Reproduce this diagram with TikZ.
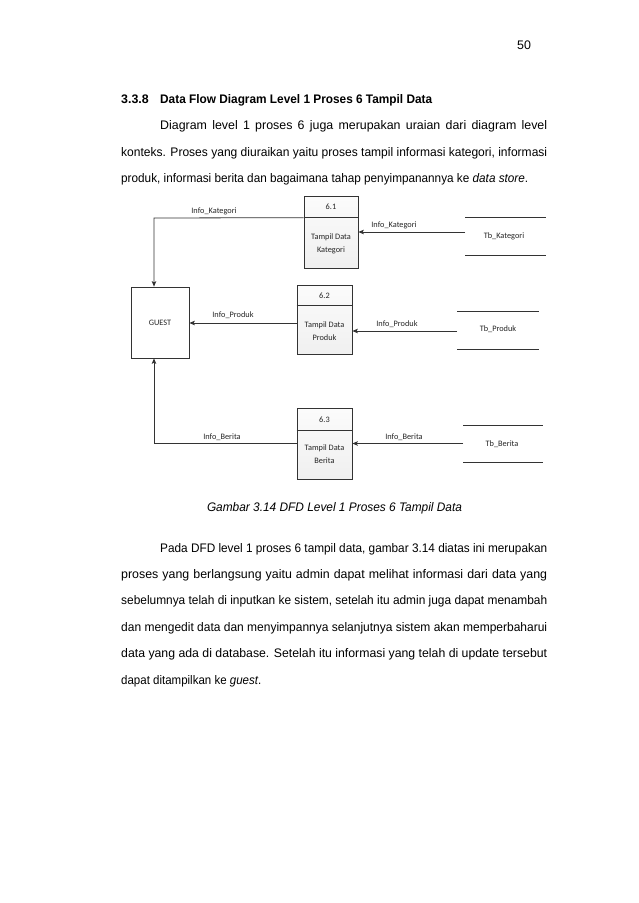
\documentclass[tikz,border=0pt]{standalone}
\usepackage{fontspec}
\setmainfont{Liberation Sans}
\newfontfamily\dfdfont{Carlito}
\usepackage{graphicx}
\usetikzlibrary{arrows.meta}
\newlength\fitlen
\newcommand\fitto[2]{\settowidth\fitlen{#2}\ifdim\fitlen<#1\relax\makebox[#1][s]{#2}\else\pgfmathsetmacro\fitr{#1/\fitlen}\scalebox{\fitr}[1]{#2}\fi}
\begin{document}
\begin{tikzpicture}[x=1pt,y=-1pt,
  body/.style={anchor=base west,inner sep=0pt,font=\fontsize{12.4}{14}\selectfont,text=black},
  lbl/.style={inner sep=0pt,font=\dfdfont\fontsize{8.3}{13}\selectfont,text=black!85,align=center},
  proc/.style={draw=black!80,line width=0.7pt,top color=gray!3,bottom color=gray!12,inner sep=0pt},
  ext/.style={draw=black!80,line width=0.7pt,fill=white,inner sep=0pt},
  storeline/.style={draw=black!80,line width=0.8pt},
  flow/.style={draw=black!80,line width=0.8pt,-{Stealth[length=5.5pt,width=4.5pt,inset=1.2pt]}}]
\useasboundingbox[fill=white] (0,0) rectangle (638,903);

% page number and heading
\node[body] (pg) at (517,49) {50};
\node[body,font=\fontsize{12.4}{14}\selectfont\bfseries] (h1) at (121,103) {3.3.8};
\node[body,font=\fontsize{12.4}{14}\selectfont\bfseries] (h2) at (160,103) {\fitto{272pt}{Data Flow Diagram Level 1 Proses 6 Tampil Data}};

% paragraph 1
\node[body] (a1) at (160,129) {\fitto{387pt}{Diagram level 1 proses 6 juga merupakan uraian dari diagram level}};
\node[body] (a2) at (121,156) {\fitto{426pt}{konteks. Proses yang diuraikan yaitu proses tampil informasi kategori, informasi}};
\node[body] (a3) at (121,182) {\fitto{407pt}{produk, informasi berita dan bagaimana tahap penyimpanannya ke \textit{data store}.}};

% diagram: GUEST
\node[ext,minimum width=58pt,minimum height=71pt] (guest) at (160,322.5) {};
\node[lbl] (guestt) at (guest.center) {GUEST};

% process 6.1
\node[proc,minimum width=54pt,minimum height=72pt] (p1) at (331,232) {};
\draw[draw=black!80,line width=0.7pt] ([yshift=-22pt]p1.north west) -- ([yshift=-22pt]p1.north east);
\node[lbl] (p1n) at (331,207) {6.1};
\node[lbl] (p1t) at (331,244) {Tampil Data\\Kategori};

% process 6.2
\node[proc,minimum width=55pt,minimum height=69pt] (p2) at (324.5,319.5) {};
\draw[draw=black!80,line width=0.7pt] ([yshift=-21pt]p2.north west) -- ([yshift=-21pt]p2.north east);
\node[lbl] (p2n) at (324.5,295.5) {6.2};
\node[lbl] (p2t) at (324.5,331) {Tampil Data\\Produk};

% process 6.3
\node[proc,minimum width=55pt,minimum height=71pt] (p3) at (324.5,443.5) {};
\draw[draw=black!80,line width=0.7pt] ([yshift=-23pt]p3.north west) -- ([yshift=-23pt]p3.north east);
\node[lbl] (p3n) at (324.5,419.5) {6.3};
\node[lbl] (p3t) at (324.5,454) {Tampil Data\\Berita};

% data stores
\coordinate (s1a) at (465,217); \coordinate (s1b) at (546,217);
\coordinate (s1c) at (465,255); \coordinate (s1d) at (546,255);
\draw[storeline] (s1a) -- (s1b); \draw[storeline] (s1c) -- (s1d);
\node[lbl] (s1) at (504,236) {Tb\_Kategori};
\coordinate (s1in) at (465,232);

\coordinate (s2a) at (457,311); \coordinate (s2b) at (539,311);
\coordinate (s2c) at (457,349); \coordinate (s2d) at (539,349);
\draw[storeline] (s2a) -- (s2b); \draw[storeline] (s2c) -- (s2d);
\node[lbl] (s2) at (498,329) {Tb\_Produk};
\coordinate (s2in) at (457,331);

\coordinate (s3a) at (463,425); \coordinate (s3b) at (543,425);
\coordinate (s3c) at (463,462); \coordinate (s3d) at (543,462);
\draw[storeline] (s3a) -- (s3b); \draw[storeline] (s3c) -- (s3d);
\node[lbl] (s3) at (502,444) {Tb\_Berita};
\coordinate (s3in) at (463,443.5);

% flows from stores to processes
\draw[flow] (s1in) -- (p1.east);
\node[lbl] (f1) at (394,225) {Info\_Kategori};
\draw[flow] (s2in) -- (s2in -| p2.east);
\node[lbl] (f2) at (397,324) {Info\_Produk};
\draw[flow] (s3in) -- (p3.east);
\node[lbl] (f3) at (404,437) {Info\_Berita};

% flows from processes to GUEST
\coordinate (k1) at (154,218);
\draw[flow] ([yshift=-22pt]p1.north west) -- (k1) -- (k1 |- guest.north);
\node[lbl] (g1) at (214,211) {Info\_Kategori};
\coordinate (k2) at (0,323);
\draw[flow] (k2 -| p2.west) -- (k2 -| guest.east);
\node[lbl] (g2) at (233,315) {Info\_Produk};
\coordinate (k3) at (154,443.5);
\draw[flow] (p3.west) -- (k3) -- (k3 |- guest.south);
\node[lbl] (g3) at (222,437) {Info\_Berita};

% caption
\node[body,anchor=base,font=\fontsize{12.4}{14}\selectfont\itshape] (cap) at (334.5,511) {\fitto{255pt}{Gambar 3.14 DFD Level 1 Proses 6 Tampil Data}};

% paragraph 2
\node[body] (b1) at (160,552) {\fitto{387pt}{Pada DFD level 1 proses 6 tampil data, gambar 3.14 diatas ini merupakan}};
\node[body] (b2) at (121,578) {\fitto{426pt}{proses yang berlangsung yaitu admin dapat melihat informasi dari data yang}};
\node[body] (b3) at (121,604) {\fitto{426pt}{sebelumnya telah di inputkan ke sistem, setelah itu admin juga dapat menambah}};
\node[body] (b4) at (121,631) {\fitto{426pt}{dan mengedit data dan menyimpannya selanjutnya sistem akan memperbaharui}};
\node[body] (b5) at (121,657) {\fitto{426pt}{data yang ada di database. Setelah itu informasi yang telah di update tersebut}};
\node[body] (b6) at (121,684) {\fitto{140pt}{dapat ditampilkan ke \textit{guest}.}};
\end{tikzpicture}
\end{document}
